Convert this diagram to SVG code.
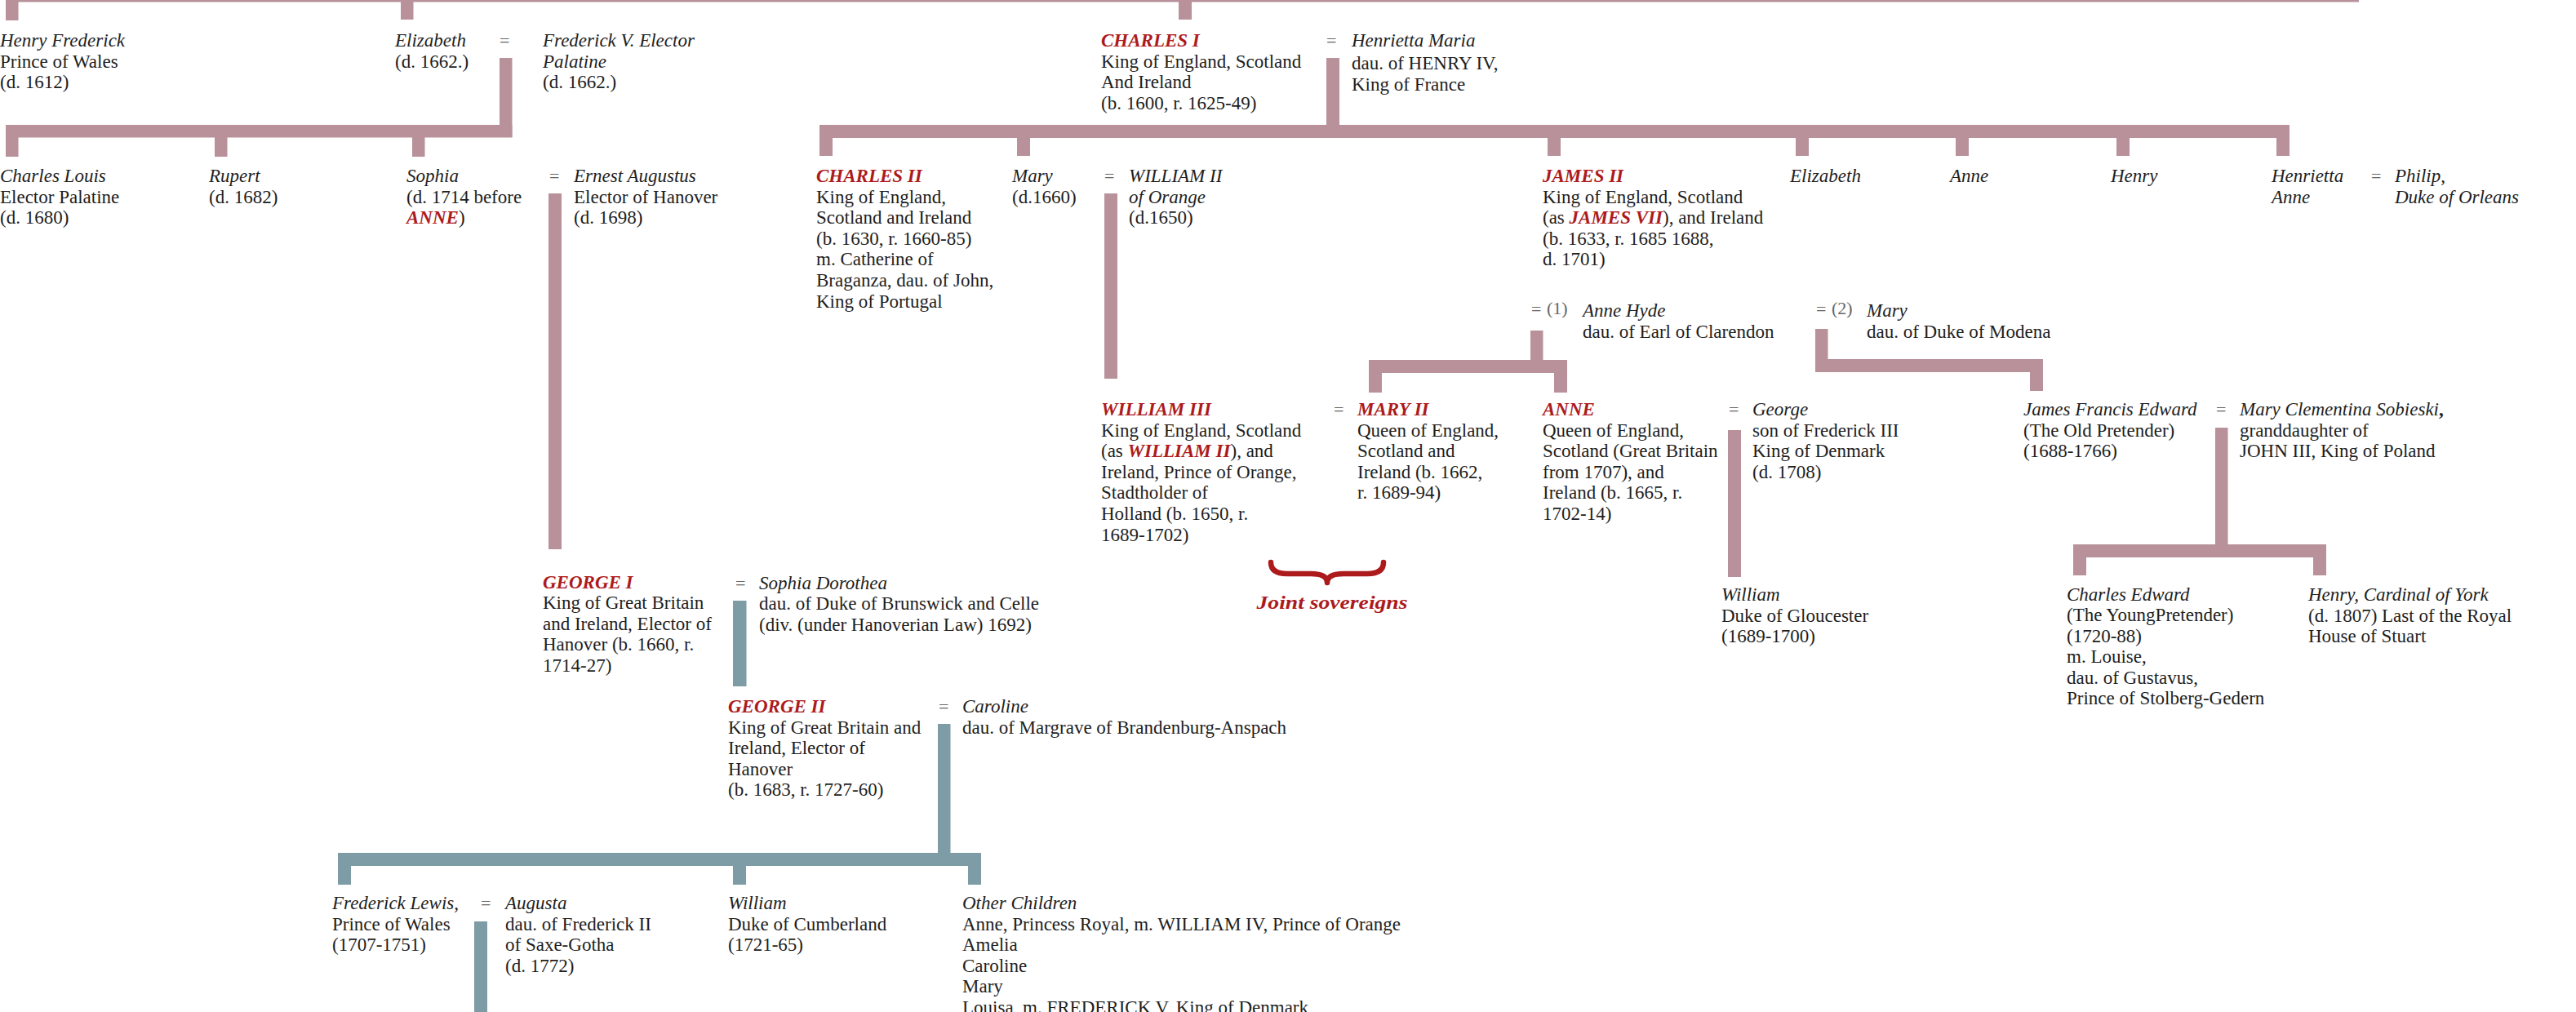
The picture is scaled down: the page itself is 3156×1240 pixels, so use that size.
<svg xmlns="http://www.w3.org/2000/svg" width="3156" height="1240" viewBox="0 0 3156 1240">
<style>
.t{font-family:"Liberation Serif","Times New Roman",serif;font-size:23px;fill:#1e1e1e}
.i{font-style:italic}
.r{fill:#ad1a1c;font-weight:bold;font-style:italic}
.eq{font-family:"Liberation Serif","Times New Roman",serif;font-size:22px;fill:#666}
.p{fill:#b8919b}
.g{fill:#7d9ca5}
.brace{fill:none;stroke:#ad1a1c;stroke-width:6.5;stroke-linejoin:round;stroke-linecap:round}
</style>
<rect x="0" y="0" width="3156" height="1240" fill="#ffffff"/>
<g id="connectors">
  <!-- top sibling bar -->
  <rect class="p" x="7" y="-14" width="2883" height="16.5"/>
  <rect class="p" x="7" y="0" width="15.5" height="25"/>
  <rect class="p" x="491" y="0" width="15.5" height="24"/>
  <rect class="p" x="1444" y="0" width="16" height="24"/>
  <!-- Elizabeth = Frederick V -->
  <rect class="p" x="612" y="71" width="15.5" height="97"/>
  <rect class="p" x="7" y="153" width="620.5" height="15.5"/>
  <rect class="p" x="7" y="168" width="15.5" height="24"/>
  <rect class="p" x="263" y="168" width="15.5" height="24"/>
  <rect class="p" x="505" y="168" width="15.5" height="24"/>
  <!-- Sophia = Ernest Augustus -->
  <rect class="p" x="672" y="237" width="16" height="436"/>
  <!-- Charles I = Henrietta Maria -->
  <rect class="p" x="1625" y="71" width="16" height="98"/>
  <rect class="p" x="1004" y="153" width="1801" height="16"/>
  <rect class="p" x="1004" y="168" width="16" height="23"/>
  <rect class="p" x="1246" y="168" width="16" height="23"/>
  <rect class="p" x="1896" y="168" width="16" height="23"/>
  <rect class="p" x="2200" y="168" width="16" height="23"/>
  <rect class="p" x="2396" y="168" width="16" height="23"/>
  <rect class="p" x="2593" y="168" width="16" height="23"/>
  <rect class="p" x="2789" y="168" width="16" height="23"/>
  <!-- Mary = William II -->
  <rect class="p" x="1353" y="237" width="16" height="227"/>
  <!-- James II = (1) Anne Hyde -->
  <rect class="p" x="1875" y="405" width="15.5" height="52"/>
  <rect class="p" x="1677" y="441" width="243" height="16"/>
  <rect class="p" x="1677" y="456" width="16" height="25"/>
  <rect class="p" x="1904" y="456" width="16" height="25"/>
  <!-- James II = (2) Mary of Modena -->
  <rect class="p" x="2224" y="403" width="15.5" height="53"/>
  <rect class="p" x="2224" y="440" width="279" height="16"/>
  <rect class="p" x="2487" y="455" width="16" height="24"/>
  <!-- Anne = George -->
  <rect class="p" x="2117" y="527" width="16" height="180"/>
  <!-- James Francis Edward = Mary Clementina -->
  <rect class="p" x="2714" y="524" width="15.5" height="159"/>
  <rect class="p" x="2540" y="667" width="310" height="16"/>
  <rect class="p" x="2540" y="682" width="16" height="23"/>
  <rect class="p" x="2834" y="682" width="16" height="23"/>
  <!-- George I = Sophia Dorothea (Hanover, teal) -->
  <rect class="g" x="898" y="736" width="16.5" height="105"/>
  <!-- George II = Caroline -->
  <rect class="g" x="1149" y="887" width="15.5" height="174"/>
  <rect class="g" x="414" y="1045" width="788" height="16"/>
  <rect class="g" x="414" y="1060" width="16" height="24"/>
  <rect class="g" x="898" y="1060" width="16" height="24"/>
  <rect class="g" x="1186" y="1060" width="16" height="24"/>
  <!-- Frederick Lewis = Augusta -->
  <rect class="g" x="581" y="1129" width="16" height="111"/>
  <!-- joint sovereigns brace -->
  <path class="brace" d="M1557,689 Q1557,703 1577,703 L1606,703 Q1626,703 1626,714 Q1626,703 1646,703 L1675,703 Q1695,703 1695,689"/>
</g>

<g id="henry-frederick"><text class="t" x="0" y="57"><tspan class="i">Henry Frederick</tspan><tspan x="0" dy="25.6">Prince of Wales</tspan><tspan x="0" dy="25.6">(d. 1612)</tspan></text></g>
<g id="elizabeth"><text class="t" x="484" y="57"><tspan class="i">Elizabeth</tspan><tspan x="484" dy="25.6">(d. 1662.)</tspan></text></g>
<g id="eq-elizabeth"><text class="eq" x="612" y="57">=</text></g>
<g id="frederick-v"><text class="t" x="665" y="57"><tspan class="i">Frederick V. Elector</tspan><tspan class="i" x="665" dy="25.6">Palatine</tspan><tspan x="665" dy="25.6">(d. 1662.)</tspan></text></g>
<g id="charles-i"><text class="t" x="1349" y="57"><tspan class="r">CHARLES I</tspan><tspan x="1349" dy="25.6">King of England, Scotland</tspan><tspan x="1349" dy="25.6">And Ireland</tspan><tspan x="1349" dy="25.6">(b. 1600, r. 1625-49)</tspan></text></g>
<g id="eq-charles-i"><text class="eq" x="1625" y="57">=</text></g>
<g id="henrietta-maria"><text class="t" x="1656" y="57"><tspan class="i">Henrietta Maria</tspan><tspan x="1656" dy="28">dau. of HENRY IV,</tspan><tspan x="1656" dy="25.6">King of France</tspan></text></g>

<g id="charles-louis"><text class="t" x="0" y="223"><tspan class="i">Charles Louis</tspan><tspan x="0" dy="25.6">Elector Palatine</tspan><tspan x="0" dy="25.6">(d. 1680)</tspan></text></g>
<g id="rupert"><text class="t" x="256" y="223"><tspan class="i">Rupert</tspan><tspan x="256" dy="25.6">(d. 1682)</tspan></text></g>
<g id="sophia"><text class="t" x="498" y="223"><tspan class="i">Sophia</tspan><tspan x="498" dy="25.6">(d. 1714 before</tspan><tspan x="498" dy="25.6" class="r">ANNE</tspan><tspan>)</tspan></text></g>
<g id="eq-sophia"><text class="eq" x="673" y="223">=</text></g>
<g id="ernest-augustus"><text class="t" x="703" y="223"><tspan class="i">Ernest Augustus</tspan><tspan x="703" dy="25.6">Elector of Hanover</tspan><tspan x="703" dy="25.6">(d. 1698)</tspan></text></g>
<g id="charles-ii"><text class="t" x="1000" y="223"><tspan class="r">CHARLES II</tspan><tspan x="1000" dy="25.6">King of England,</tspan><tspan x="1000" dy="25.6">Scotland and Ireland</tspan><tspan x="1000" dy="25.6">(b. 1630, r. 1660-85)</tspan><tspan x="1000" dy="25.6">m. Catherine of</tspan><tspan x="1000" dy="25.6">Braganza, dau. of John,</tspan><tspan x="1000" dy="25.6">King of Portugal</tspan></text></g>
<g id="mary"><text class="t" x="1240" y="223"><tspan class="i">Mary</tspan><tspan x="1240" dy="25.6">(d.1660)</tspan></text></g>
<g id="eq-mary"><text class="eq" x="1353" y="223">=</text></g>
<g id="william-ii"><text class="t" x="1383" y="223"><tspan class="i">WILLIAM II</tspan><tspan class="i" x="1383" dy="25.6">of Orange</tspan><tspan x="1383" dy="25.6">(d.1650)</tspan></text></g>
<g id="james-ii"><text class="t" x="1890" y="223"><tspan class="r">JAMES II</tspan><tspan x="1890" dy="25.6">King of England, Scotland</tspan><tspan x="1890" dy="25.6">(as </tspan><tspan class="r">JAMES VII</tspan><tspan>), and Ireland</tspan><tspan x="1890" dy="25.6">(b. 1633, r. 1685 1688,</tspan><tspan x="1890" dy="25.6">d. 1701)</tspan></text></g>
<g id="elizabeth-2"><text class="t i" x="2193" y="223">Elizabeth</text></g>
<g id="anne-2"><text class="t i" x="2389" y="223">Anne</text></g>
<g id="henry"><text class="t i" x="2586" y="223">Henry</text></g>
<g id="henrietta-anne"><text class="t i" x="2783" y="223"><tspan>Henrietta</tspan><tspan x="2783" dy="25.6">Anne</tspan></text></g>
<g id="eq-henrietta"><text class="eq" x="2905" y="223">=</text></g>
<g id="philip"><text class="t i" x="2934" y="223"><tspan>Philip,</tspan><tspan x="2934" dy="25.6">Duke of Orleans</tspan></text></g>

<g id="anne-hyde"><text class="eq" x="1876" y="386">=</text><text class="eq" x="1895" y="385">(1)</text><text class="t" x="1939" y="388"><tspan class="i">Anne Hyde</tspan><tspan x="1939" dy="25.6">dau. of Earl of Clarendon</tspan></text></g>
<g id="mary-modena"><text class="eq" x="2225" y="386">=</text><text class="eq" x="2244" y="385">(2)</text><text class="t" x="2287" y="388"><tspan class="i">Mary</tspan><tspan x="2287" dy="25.6">dau. of Duke of Modena</tspan></text></g>

<g id="william-iii"><text class="t" x="1349" y="509"><tspan class="r">WILLIAM III</tspan><tspan x="1349" dy="25.6">King of England, Scotland</tspan><tspan x="1349" dy="25.6">(as </tspan><tspan class="r">WILLIAM II</tspan><tspan>), and</tspan><tspan x="1349" dy="25.6">Ireland, Prince of Orange,</tspan><tspan x="1349" dy="25.6">Stadtholder of</tspan><tspan x="1349" dy="25.6">Holland (b. 1650, r.</tspan><tspan x="1349" dy="25.6">1689-1702)</tspan></text></g>
<g id="eq-william-iii"><text class="eq" x="1634" y="509">=</text></g>
<g id="mary-ii"><text class="t" x="1663" y="509"><tspan class="r">MARY II</tspan><tspan x="1663" dy="25.6">Queen of England,</tspan><tspan x="1663" dy="25.6">Scotland and</tspan><tspan x="1663" dy="25.6">Ireland (b. 1662,</tspan><tspan x="1663" dy="25.6">r. 1689-94)</tspan></text></g>
<g id="anne"><text class="t" x="1890" y="509"><tspan class="r">ANNE</tspan><tspan x="1890" dy="25.6">Queen of England,</tspan><tspan x="1890" dy="25.6">Scotland (Great Britain</tspan><tspan x="1890" dy="25.6">from 1707), and</tspan><tspan x="1890" dy="25.6">Ireland (b. 1665, r.</tspan><tspan x="1890" dy="25.6">1702-14)</tspan></text></g>
<g id="eq-anne"><text class="eq" x="2118" y="509">=</text></g>
<g id="george-denmark"><text class="t" x="2147" y="509"><tspan class="i">George</tspan><tspan x="2147" dy="25.6">son of Frederick III</tspan><tspan x="2147" dy="25.6">King of Denmark</tspan><tspan x="2147" dy="25.6">(d. 1708)</tspan></text></g>
<g id="james-francis-edward"><text class="t" x="2479" y="509"><tspan class="i">James Francis Edward</tspan><tspan x="2479" dy="25.6">(The Old Pretender)</tspan><tspan x="2479" dy="25.6">(1688-1766)</tspan></text></g>
<g id="eq-jfe"><text class="eq" x="2715" y="509">=</text></g>
<g id="mary-clementina"><text class="t" x="2744" y="509"><tspan class="i">Mary Clementina Sobieski</tspan><tspan font-weight="bold">,</tspan><tspan x="2744" dy="25.6">granddaughter of</tspan><tspan x="2744" dy="25.6">JOHN III, King of Poland</tspan></text></g>

<g id="joint-sovereigns"><text class="t r" x="1632" y="746" text-anchor="middle" font-size="25" textLength="185" lengthAdjust="spacingAndGlyphs">Joint sovereigns</text></g>

<g id="george-i"><text class="t" x="665" y="721"><tspan class="r">GEORGE I</tspan><tspan x="665" dy="25.4">King of Great Britain</tspan><tspan x="665" dy="25.4">and Ireland, Elector of</tspan><tspan x="665" dy="25.4">Hanover (b. 1660, r.</tspan><tspan x="665" dy="25.4">1714-27)</tspan></text></g>
<g id="eq-george-i"><text class="eq" x="901" y="722">=</text></g>
<g id="sophia-dorothea"><text class="t" x="930" y="722"><tspan class="i">Sophia Dorothea</tspan><tspan x="930" dy="25.4">dau. of Duke of Brunswick and Celle</tspan><tspan x="930" dy="25.4">(div. (under Hanoverian Law) 1692)</tspan></text></g>
<g id="william-gloucester"><text class="t" x="2109" y="736"><tspan class="i">William</tspan><tspan x="2109" dy="25.6">Duke of Gloucester</tspan><tspan x="2109" dy="25.6">(1689-1700)</tspan></text></g>
<g id="charles-edward"><text class="t" x="2532" y="736"><tspan class="i">Charles Edward</tspan><tspan x="2532" dy="25.4">(The YoungPretender)</tspan><tspan x="2532" dy="25.4">(1720-88)</tspan><tspan x="2532" dy="25.4">m. Louise,</tspan><tspan x="2532" dy="25.4">dau. of Gustavus,</tspan><tspan x="2532" dy="25.4">Prince of Stolberg-Gedern</tspan></text></g>
<g id="henry-york"><text class="t" x="2828" y="736"><tspan class="i">Henry, Cardinal of York</tspan><tspan x="2828" dy="25.6">(d. 1807) Last of the Royal</tspan><tspan x="2828" dy="25.6">House of Stuart</tspan></text></g>

<g id="george-ii"><text class="t" x="892" y="873"><tspan class="r">GEORGE II</tspan><tspan x="892" dy="25.6">King of Great Britain and</tspan><tspan x="892" dy="25.6">Ireland, Elector of</tspan><tspan x="892" dy="25.6">Hanover</tspan><tspan x="892" dy="25.6">(b. 1683, r. 1727-60)</tspan></text></g>
<g id="eq-george-ii"><text class="eq" x="1150" y="873">=</text></g>
<g id="caroline"><text class="t" x="1179" y="873"><tspan class="i">Caroline</tspan><tspan x="1179" dy="25.6">dau. of Margrave of Brandenburg-Anspach</tspan></text></g>

<g id="frederick-lewis"><text class="t" x="407" y="1114"><tspan class="i">Frederick Lewis,</tspan><tspan x="407" dy="25.6">Prince of Wales</tspan><tspan x="407" dy="25.6">(1707-1751)</tspan></text></g>
<g id="eq-frederick-lewis"><text class="eq" x="589" y="1114">=</text></g>
<g id="augusta"><text class="t" x="619" y="1114"><tspan class="i">Augusta</tspan><tspan x="619" dy="25.6">dau. of Frederick II</tspan><tspan x="619" dy="25.6">of Saxe-Gotha</tspan><tspan x="619" dy="25.6">(d. 1772)</tspan></text></g>
<g id="william-cumberland"><text class="t" x="892" y="1114"><tspan class="i">William</tspan><tspan x="892" dy="25.6">Duke of Cumberland</tspan><tspan x="892" dy="25.6">(1721-65)</tspan></text></g>
<g id="other-children"><text class="t" x="1179" y="1114"><tspan class="i">Other Children</tspan><tspan x="1179" dy="25.6">Anne, Princess Royal, m. WILLIAM IV, Prince of Orange</tspan><tspan x="1179" dy="25.6">Amelia</tspan><tspan x="1179" dy="25.6">Caroline</tspan><tspan x="1179" dy="25.6">Mary</tspan><tspan x="1179" dy="25.6">Louisa, m. FREDERICK V, King of Denmark</tspan></text></g>
</svg>
